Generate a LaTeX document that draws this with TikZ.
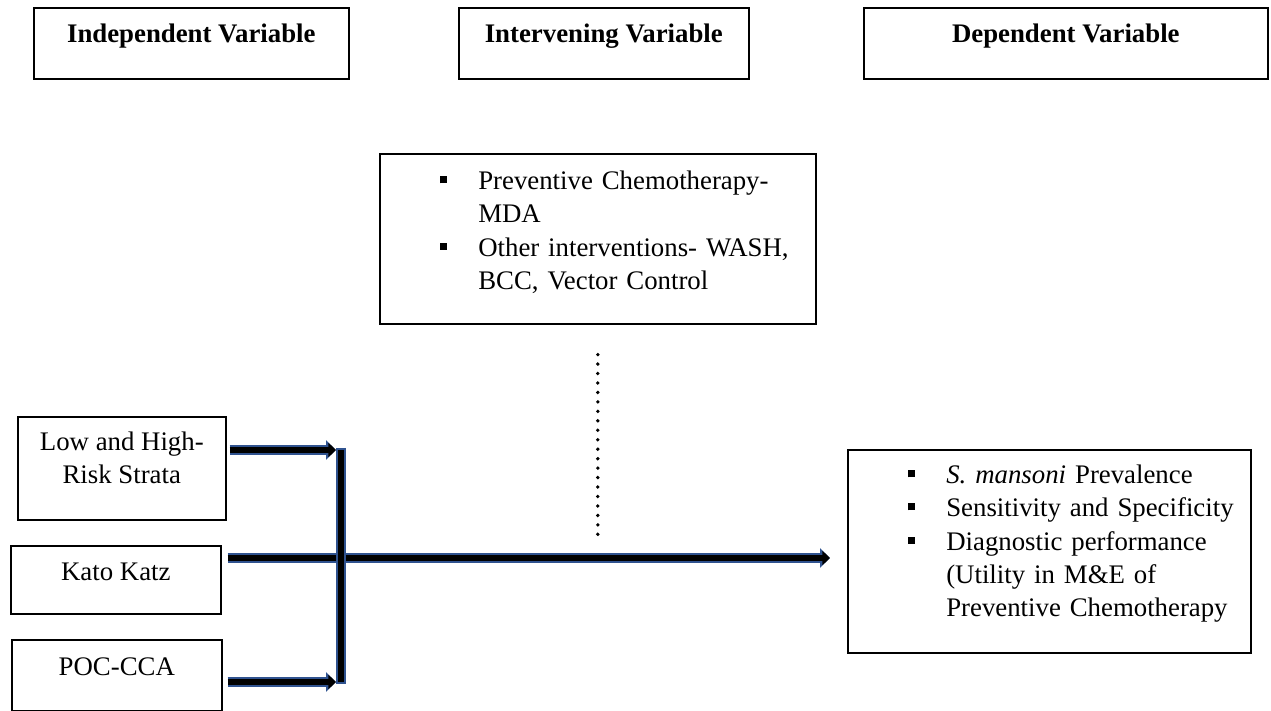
\documentclass[tikz,border=0pt]{standalone}
\usepackage{fontspec}
\setmainfont{Liberation Serif}
\usepackage{xcolor}
\usepackage{tikz}
\usetikzlibrary{arrows.meta, calc}
\setlength{\parindent}{0pt}

\definecolor{arrowblue}{RGB}{47,82,143}
\newcommand{\bul}{\makebox[49.25pt][l]{\hspace{30pt}\rule[3.25pt]{3.5pt}{3.5pt}}}
\newcommand{\bulskip}{\hspace*{49.25pt}}

\tikzset{
  box/.style={draw, line width=0.8pt, inner sep=0pt, anchor=north west,
    font=\fontsize{13.4}{16.6}\selectfont},
  headbox/.style={box, font=\fontsize{13.4}{16.6}\selectfont\bfseries,
    text height=17.5pt, text depth=18pt},
  listbox/.style={box, align=left},
  fatline/.style={draw=black, line width=3pt,
    preaction={draw=arrowblue, line width=5pt, shorten <=-1pt, shorten >=-1pt}},
  fatarrow/.style={draw=black, line width=3pt, -{Triangle[length=3.8pt, width=7pt]},
    preaction={draw=arrowblue, line width=5pt, -{Triangle[length=5pt, width=9.5pt]}}},
  dotline/.style={line width=1.9pt, line cap=round, dash pattern=on 0pt off 4.73pt},
}

\begin{document}
\begin{tikzpicture}[x=0.5pt, y=-0.5pt]
\useasboundingbox (0,0) rectangle (1271,711);
% Column headings
\node[headbox, minimum width=157.5pt] (indephead) at (33,7) {Independent Variable};
\node[headbox, minimum width=145pt] (interhead) at (458,7) {Intervening Variable};
\node[headbox, minimum width=202pt] (dephead) at (863,7) {Dependent Variable};
% Intervening factors
\node[listbox, text width=218pt, text height=18pt, text depth=67pt] (interv) at (379,153)
  {\bul Preventive Chemotherapy-\\ \bulskip MDA\\
   \bul Other interventions- WASH,\\ \bulskip BCC, Vector Control};
% Independent variables
\node[box, align=center, minimum width=104pt, text height=33.6pt, text depth=17.9pt]
  (lowhigh) at (17,416) {Low and High-\\Risk Strata};
\node[box, minimum width=105pt, text height=17.5pt, text depth=16.5pt] (kato) at (10,545) {Kato Katz};
\node[box, minimum width=105pt, text height=18pt, text depth=17.5pt] (poc) at (11,639) {POC-CCA};
% Outcomes
\node[listbox, text width=201.5pt, text height=17pt, text depth=84.5pt] (outcome) at (847,449)
  {\bul \textit{S. mansoni} Prevalence\\ \bul Sensitivity and Specificity\\
   \bul Diagnostic performance\\ \bulskip (Utility in M\&E of\\ \bulskip Preventive Chemotherapy};
% Joining bar and arrows
\coordinate (bartop) at (341,450);
\coordinate (barbot) at (341,682);
\coordinate (midline) at (341,558);
\draw[fatarrow] ($(lowhigh.east |- bartop)+(1.5pt,0)$) -- ([xshift=-2.5pt]bartop);
\draw[fatarrow] ($(kato.east |- midline)+(3pt,0)$) -- ($(outcome.west |- midline)+(-8.5pt,0)$);
\draw[fatarrow] ($(poc.east |- barbot)+(2.5pt,0)$) -- ([xshift=-2.5pt]barbot);
\draw[fatline] (bartop) -- (barbot);
% Dotted link from intervening box
\coordinate (dottop) at ($(interv.south)+(0,-15pt)$);
\coordinate (dotbot) at ($(interv.south |- midline)+(0,8pt)$);
\draw[dotline] (dottop) -- (dotbot);
\end{tikzpicture}
\end{document}
